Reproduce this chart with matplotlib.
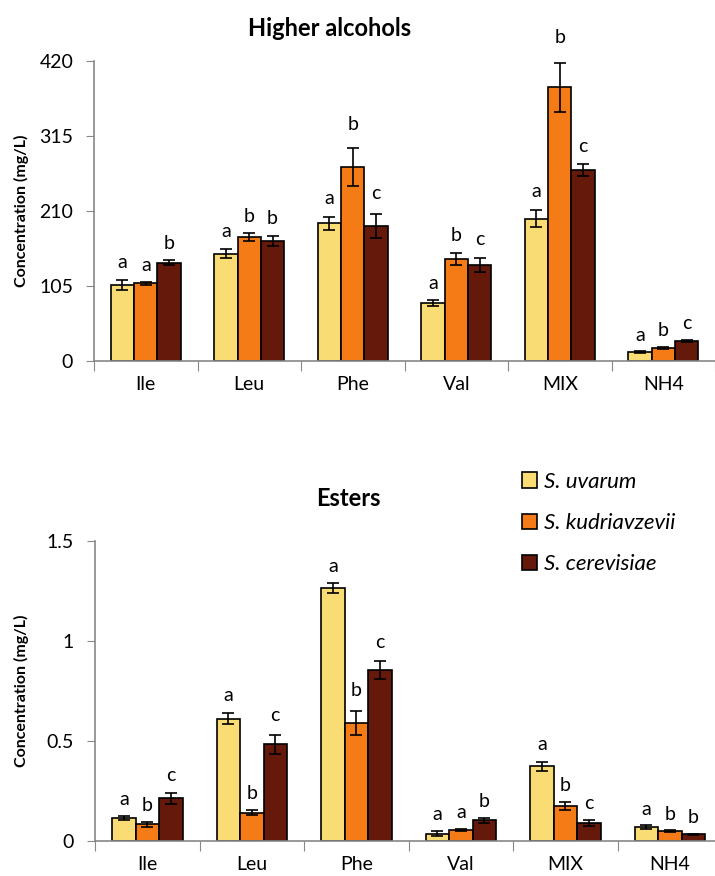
import matplotlib.pyplot as plt
import numpy as np

plt.rcParams["font.family"] = ["Lato", "DejaVu Sans"]

CATEGORIES = ["Ile", "Leu", "Phe", "Val", "MIX", "NH4"]
STRAINS = ["S. uvarum", "S. kudriavzevii", "S. cerevisiae"]
COLORS = ["#F9DC74", "#F47B16", "#64190A"]

# Higher alcohols (mg/L)
ALC_UVARUM = [106, 150, 193, 81, 199, 12.6]
ALC_KUDRI = [109, 173.6, 271.6, 142.8, 383, 18.7]
ALC_CEREV = [137.6, 167.5, 189, 134, 267, 28.5]
ALC_UVARUM_ERR = [7, 6.5, 9, 4, 12, 1]
ALC_KUDRI_ERR = [2, 5, 27, 8, 34, 1.5]
ALC_CEREV_ERR = [3.5, 7, 17, 10, 8.6, 1.5]
ALC_LETTERS = [["a", "a", "b"], ["a", "b", "b"], ["a", "b", "c"],
               ["a", "b", "c"], ["a", "b", "c"], ["a", "b", "c"]]

# Esters (mg/L)
EST_UVARUM = [0.115, 0.612, 1.265, 0.037, 0.373, 0.07]
EST_KUDRI = [0.083, 0.142, 0.59, 0.057, 0.173, 0.05]
EST_CEREV = [0.213, 0.483, 0.855, 0.103, 0.09, 0.033]
EST_UVARUM_ERR = [0.012, 0.027, 0.023, 0.012, 0.023, 0.008]
EST_KUDRI_ERR = [0.012, 0.012, 0.062, 0.005, 0.02, 0.005]
EST_CEREV_ERR = [0.027, 0.048, 0.043, 0.012, 0.016, 0.004]
EST_LETTERS = [["a", "b", "c"], ["a", "b", "c"], ["a", "b", "c"],
               ["a", "a", "b"], ["a", "b", "c"], ["a", "b", "b"]]


def draw_panel(ax, values, errors, letters, ymax, yticks, ytick_labels):
    x = np.arange(len(CATEGORIES))
    width = 0.225
    for i, (vals, errs) in enumerate(zip(values, errors)):
        pos = x + (i - 1) * width
        ax.bar(pos, vals, width, color=COLORS[i], edgecolor="black",
               linewidth=1.2, label=STRAINS[i], zorder=2)
        ax.errorbar(pos, vals, yerr=errs, fmt="none", ecolor="black",
                    elinewidth=1.2, capsize=4, capthick=1.2, zorder=3)
        for j in range(len(CATEGORIES)):
            # letters sit a bit further above the larger error bars
            ax.annotate(letters[j][i], (pos[j], vals[j] + 1.4 * errs[j]),
                        xytext=(0, 5), textcoords="offset points",
                        ha="center", va="bottom", fontsize=14,
                        annotation_clip=False)

    ax.set_xlim(-0.5, len(CATEGORIES) - 0.5)
    ax.set_ylim(0, ymax)
    ax.set_yticks(yticks)
    ax.set_yticklabels(ytick_labels, fontsize=14)
    ax.set_xticks(np.arange(len(CATEGORIES) + 1) - 0.5)
    ax.set_xticklabels([])
    ax.set_xticks(x, minor=True)
    ax.set_xticklabels(CATEGORIES, minor=True, fontsize=14)
    ax.tick_params(axis="x", which="major", length=7, color="#888888")
    ax.tick_params(axis="x", which="minor", length=0, pad=11)
    ax.tick_params(axis="y", length=6, color="#888888", pad=9)
    for side in ["top", "right"]:
        ax.spines[side].set_visible(False)
    for side in ["left", "bottom"]:
        ax.spines[side].set_color("#888888")
        ax.spines[side].set_linewidth(1.2)
    ax.set_ylabel("Concentration (mg/L)", fontsize=11.5, fontweight="bold")
    ax.yaxis.set_label_coords(-0.105, 0.5)


fig = plt.figure(figsize=(7.15, 8.76), dpi=100)

ax1 = fig.add_axes([0.1315, 0.5879, 0.8685, 0.3425])
draw_panel(ax1, [ALC_UVARUM, ALC_KUDRI, ALC_CEREV],
           [ALC_UVARUM_ERR, ALC_KUDRI_ERR, ALC_CEREV_ERR], ALC_LETTERS,
           420, [0, 105, 210, 315, 420], ["0", "105", "210", "315", "420"])
fig.text(330 / 715, 1 - 28 / 876, "Higher alcohols", fontsize=17,
         fontweight="bold", ha="center", va="center")

ax2 = fig.add_axes([0.1329, 0.04, 0.877, 0.3425])
draw_panel(ax2, [EST_UVARUM, EST_KUDRI, EST_CEREV],
           [EST_UVARUM_ERR, EST_KUDRI_ERR, EST_CEREV_ERR], EST_LETTERS,
           1.5, [0, 0.5, 1, 1.5], ["0", "0.5", "1", "1.5"])
fig.text(348 / 715, 1 - 498 / 876, "Esters", fontsize=17,
         fontweight="bold", ha="center", va="center")

handles, labels = ax2.get_legend_handles_labels()
fig.legend(handles, labels, loc="upper left", bbox_to_anchor=(0.702, 0.484),
           frameon=False, prop={"style": "italic", "size": 16},
           handlelength=0.7, handleheight=0.7, handletextpad=0.3,
           labelspacing=0.95)

fig.savefig("out.png", dpi=100)
